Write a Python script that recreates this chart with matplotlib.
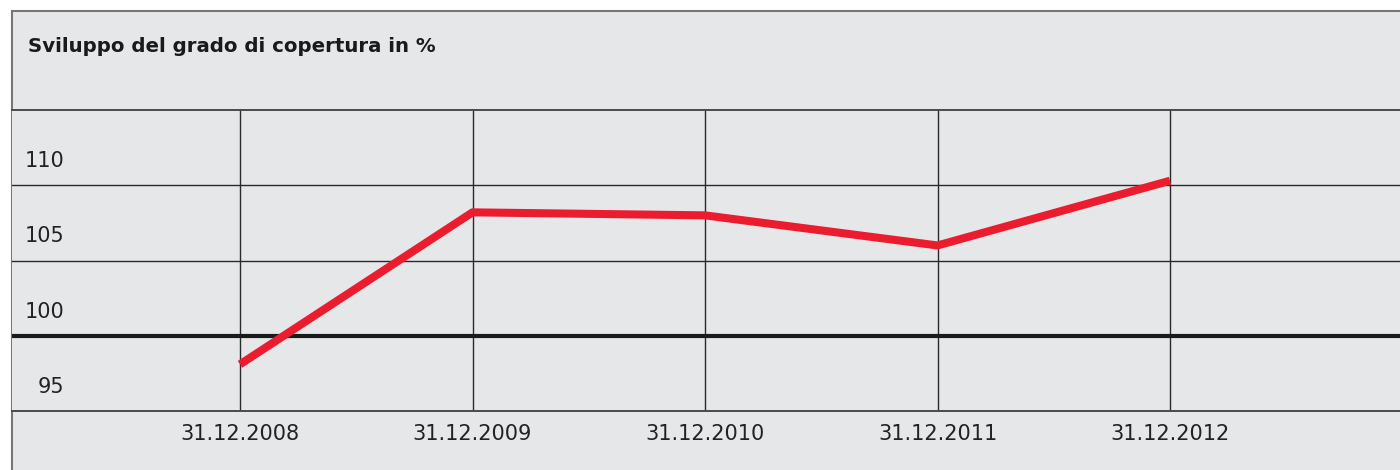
import matplotlib
matplotlib.use("Agg")
import matplotlib.pyplot as plt
from matplotlib.patches import Rectangle

# Data
dates = ["31.12.2008", "31.12.2009", "31.12.2010", "31.12.2011", "31.12.2012"]
coverage = [98.1, 108.2, 108.0, 106.0, 110.3]
y_labels = [110, 105, 100, 95]
title = "Sviluppo del grado di copertura in %"

plt.rcParams["font.family"] = ["DejaVu Sans"]

W, H = 1400, 470
bg = "#e6e7e9"
grid_col = "#2a2a2a"

fig = plt.figure(figsize=(W / 100, H / 100), dpi=100, facecolor="white")

# grey panel with frame on the left and top
fig.patches.append(Rectangle((12 / W, -0.05), 1.1, 1 - 11 / H + 0.05, transform=fig.transFigure,
                             facecolor=bg, edgecolor="#777777", linewidth=1.5, zorder=-10))

ax = fig.add_axes([12 / W, 1 - 411 / H, 1, (411 - 110) / H])
ax.set_facecolor(bg)
x = list(range(len(dates)))
ax.set_xlim((12 - 240) / 232.5, (12 - 240) / 232.5 + W / 232.5)
ax.set_ylim(95, 115)

# grid lines
for xi in x:
    ax.axvline(xi, color=grid_col, linewidth=1.0, zorder=1)
for yv in [105, 110]:
    ax.axhline(yv, color=grid_col, linewidth=1.0, zorder=1)
ax.axhline(100, color="#1a1a1a", linewidth=3, zorder=1)

for s in ["right", "left"]:
    ax.spines[s].set_visible(False)
for s in ["top", "bottom"]:
    ax.spines[s].set_color("#4a4a4a")
    ax.spines[s].set_linewidth(1.4)

ax.plot(x, coverage, color="#ec1c2f", linewidth=5.8, solid_capstyle="butt", zorder=3)

# y labels sit just above their lines
for v in y_labels:
    ax.text((64 - 12) / W, v + 1.6, str(v), transform=ax.get_yaxis_transform(),
            ha="right", va="center", fontsize=15, color="#222222")

ax.set_yticks([])
ax.set_xticks(x)
ax.set_xticklabels(dates, fontsize=15, color="#222222")
ax.tick_params(axis="x", length=0, pad=9)

fig.text(28 / W, 1 - 47 / H, title, fontsize=14.2, fontweight="bold", color="#1a1a1a",
         ha="left", va="center")

fig.savefig("out.png", dpi=100, facecolor="white")
